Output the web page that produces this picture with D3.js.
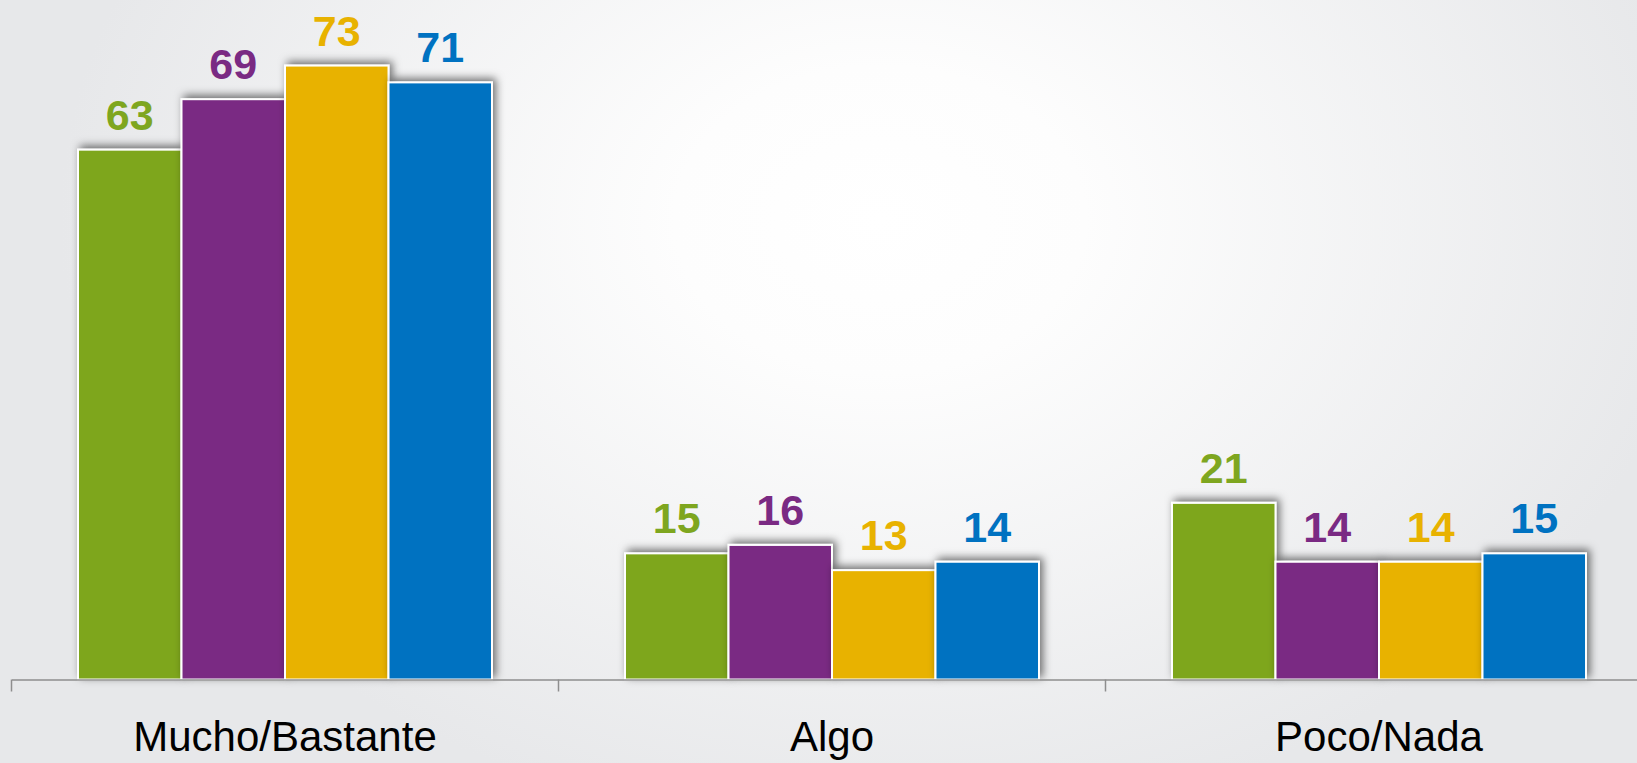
<!DOCTYPE html>
<html>
<head>
<meta charset="utf-8">
<script src="https://cdn.jsdelivr.net/npm/d3@7"></script>
<style>
  html, body { margin: 0; padding: 0; overflow: hidden; }
  svg { display: block; }
</style>
</head>
<body>
<svg id="chart" width="1637" height="763"></svg>
<script>
const categories = ["Mucho/Bastante", "Algo", "Poco/Nada"];
const seriesNames = ["Serie 1", "Serie 2", "Serie 3", "Serie 4"];
const series1 = [63, 15, 21];
const series2 = [69, 16, 14];
const series3 = [73, 13, 14];
const series4 = [71, 14, 15];
const colors = ["#7ea61f", "#7a2a83", "#e8b200", "#0072c1"];

const seriesValues = [series1, series2, series3, series4];
const W = 1637, H = 763;
const svg = d3.select("#chart");
const defs = svg.append("defs");

const grad = defs.append("radialGradient").attr("id", "bg")
  .attr("gradientUnits", "userSpaceOnUse")
  .attr("cx", 880).attr("cy", 220).attr("r", 820)
  .attr("gradientTransform", "translate(880,220) scale(1,0.75) translate(-880,-220)");
grad.append("stop").attr("offset", "0").attr("stop-color", "#ffffff");
grad.append("stop").attr("offset", "0.25").attr("stop-color", "#fdfdfd");
grad.append("stop").attr("offset", "1").attr("stop-color", "#e7e8ea");
svg.append("rect").attr("width", W).attr("height", H).attr("fill", "url(#bg)");

const filt = defs.append("filter").attr("id", "shadow")
  .attr("x", "-20%").attr("y", "-20%").attr("width", "140%").attr("height", "140%");
filt.append("feDropShadow").attr("dx", 3).attr("dy", -3).attr("stdDeviation", 4)
  .attr("flood-color", "#000").attr("flood-opacity", 0.55);

const axisY = 679.5;
const bandW = 547;
const x0 = d3.scaleBand().domain(categories).range([11.5, 11.5 + 3 * bandW]).padding(0);
const groupW = 414;
const x1 = d3.scaleBand().domain(seriesNames).range([0, groupW]).padding(0);
const y = d3.scaleLinear().domain([0, 80]).range([axisY, axisY - 8.41 * 80]);

const data = [];
categories.forEach((c, i) => {
  seriesNames.forEach((s, j) => {
    data.push({ cat: c, ser: s, v: seriesValues[j][i], color: colors[j] });
  });
});

const gx = c => x0(c) + (x0.bandwidth() - groupW) / 2;

// bars
svg.append("g").selectAll("rect").data(data).join("rect")
  .attr("x", d => gx(d.cat) + x1(d.ser))
  .attr("y", d => y(d.v))
  .attr("width", x1.bandwidth())
  .attr("height", d => axisY - y(d.v))
  .attr("fill", d => d.color)
  .attr("stroke", "#ffffff")
  .attr("stroke-width", 2)
  .attr("filter", "url(#shadow)");

// value labels
svg.append("g").selectAll("text").data(data).join("text")
  .attr("x", d => gx(d.cat) + x1(d.ser) + x1.bandwidth() / 2)
  .attr("y", d => y(d.v) - 20)
  .attr("text-anchor", "middle")
  .attr("font-family", "Liberation Sans, Arial, sans-serif")
  .attr("font-weight", "bold")
  .attr("font-size", 43)
  .attr("fill", d => d.color)
  .text(d => d.v);

// axis
const axis = d3.axisBottom(x0).tickSize(0).tickFormat("");
const ga = svg.append("g").attr("transform", `translate(0,${axisY})`).call(axis);
ga.select(".domain").attr("stroke", "#8e8e8e").attr("stroke-width", 1.5);
const boundaries = [0, 1, 2, 3].map(i => x0.range()[0] + i * x0.step());
ga.selectAll(".bnd").data(boundaries).join("line")
  .attr("x1", d => d).attr("x2", d => d)
  .attr("y1", 0).attr("y2", 12)
  .attr("stroke", "#8e8e8e").attr("stroke-width", 1.5);

svg.append("g").selectAll("text").data(categories).join("text")
  .attr("x", d => x0(d) + x0.bandwidth() / 2)
  .attr("y", 751)
  .attr("text-anchor", "middle")
  .attr("font-family", "Liberation Sans, Arial, sans-serif")
  .attr("font-size", 42)
  .attr("fill", "#000")
  .text(d => d);
</script>
</body>
</html>
